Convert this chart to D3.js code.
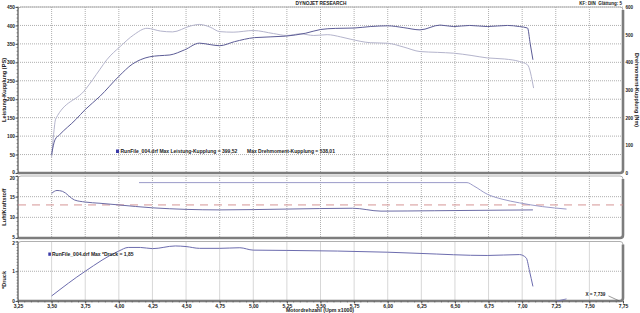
<!DOCTYPE html>
<html><head><meta charset="utf-8">
<script src="https://cdn.jsdelivr.net/npm/d3@7"></script>
<style>
html,body{margin:0;padding:0;background:#fff;}
svg{display:block;}
text{font-family:"Liberation Sans",Arial,sans-serif;font-weight:bold;fill:#222;}
</style></head>
<body>
<svg id="c" width="640" height="313"></svg>
<script>
// ---------- data ----------
const rpmTicks = [3.25,3.5,3.75,4.0,4.25,4.5,4.75,5.0,5.25,5.5,5.75,6.0,6.25,6.5,6.75,7.0,7.25,7.5,7.75];
const powerTicks = [0,50,100,150,200,250,300,350,400,450];
const torqueTicks = [0,100,200,300,400,500,600];
const afrTicks = [5,10,15,20];
const boostTicks = [0,1,2];

// Leistung-Kupplung (PS) [rpm x1000, PS]
const power = [[3.50,50],[3.525,90],[3.56,104],[3.68,145],[3.75,172],[3.86,208],[4.00,262],[4.10,295],[4.16,307],[4.23,315],[4.30,318],[4.38,320],[4.49,334],[4.60,352],[4.68,348],[4.75,345],[4.86,356],[5.01,367],[5.24,371],[5.39,379],[5.50,389],[5.61,392],[5.75,393],[5.87,397],[6.00,399],[6.12,394],[6.24,388],[6.39,401],[6.49,397],[6.61,400],[6.74,397],[6.89,400],[6.98,397],[7.04,393],[7.06,350],[7.08,307]];
// Drehmoment-Kupplung (Nm)
const torque = [[3.50,58],[3.515,140],[3.53,195],[3.75,301],[3.86,375],[3.91,409],[4.01,457],[4.11,499],[4.21,523],[4.31,513],[4.40,510],[4.53,531],[4.60,537],[4.68,527],[4.75,511],[4.85,509],[5.00,515],[5.15,504],[5.25,497],[5.35,503],[5.45,497],[5.55,500],[5.65,492],[5.72,484],[5.87,471],[6.00,469],[6.12,455],[6.24,439],[6.37,436],[6.49,433],[6.62,425],[6.74,416],[6.87,412],[6.98,403],[7.04,391],[7.085,307]];
// Luft/Kraftstoff
const afr = [[3.50,15.8],[3.54,16.5],[3.58,16.3],[3.67,14.2],[3.75,13.7],[3.86,13.4],[4.00,13.0],[4.25,12.3],[4.75,11.8],[5.25,12.0],[5.74,12.2],[5.95,11.5],[6.35,11.6],[7.08,11.8]];
const afr2 = [[4.15,18.4],[6.59,18.4],[6.64,17.6],[6.74,15.6],[6.85,14.4],[6.98,13.5],[7.15,12.6],[7.33,12.0]];
const afrRef = 13.0;
// *Druck
const boost = [[3.50,0.17],[3.75,1.0],[4.00,1.68],[4.07,1.80],[4.16,1.80],[4.25,1.76],[4.42,1.85],[4.50,1.83],[4.60,1.77],[4.75,1.77],[4.90,1.79],[5.00,1.71],[5.25,1.70],[6.00,1.64],[6.24,1.60],[6.74,1.53],[6.98,1.56],[7.03,1.45],[7.055,1.0],[7.08,0.49]];
const boostTail = [[7.26,0],[7.33,0.07]];
const cursorX = 7.739;

// ---------- layout ----------
const svg = d3.select("#c");
const L = 18, R = 623;
const x = d3.scaleLinear().domain([3.25,7.75]).range([L,R]);
const top1 = 7, bot1 = 173, top2 = 176, bot2 = 238, top3 = 241.5, bot3 = 301;
const yP = d3.scaleLinear().domain([0,450]).range([bot1,top1]);
const yT = d3.scaleLinear().domain([0,600]).range([bot1,top1]);
const yA = d3.scaleLinear().domain([5,20]).range([bot2,top2]);
const yB = d3.scaleLinear().domain([0,2]).range([bot3,top3]);

const grid = svg.append("g");
function vgrid(t,b){
  grid.selectAll(null).data(rpmTicks.slice(1,-1)).enter().append("line")
    .attr("x1",d=>x(d)).attr("x2",d=>x(d)).attr("y1",t).attr("y2",b)
    .attr("stroke","#9a9a9a").attr("stroke-width",0.8).attr("stroke-dasharray","1,1");
}
function hgrid(sc,vals){
  grid.selectAll(null).data(vals).enter().append("line")
    .attr("x1",L).attr("x2",R).attr("y1",d=>sc(d)).attr("y2",d=>sc(d))
    .attr("stroke","#9a9a9a").attr("stroke-width",0.8).attr("stroke-dasharray","1,1");
}
vgrid(top1,bot1); vgrid(top2,bot2); vgrid(top3,bot3);
hgrid(yP,powerTicks.slice(1,-1).concat([450]));
hgrid(yA,[10,15]);
hgrid(yB,[1]);

// panel frames
function frame(t,b){
  const g = svg.append("g");
  g.append("rect").attr("x",L).attr("y",t).attr("width",R-L).attr("height",b-t).attr("rx",3)
    .attr("fill","none").attr("stroke","#b0b0b0").attr("stroke-width",1);
  g.append("path").attr("d",`M${R},${t+3}L${R},${b-3}Q${R},${b} ${R-3},${b}L${L},${b}`)
    .attr("fill","none").attr("stroke","#7d7d7d").attr("stroke-width",2.6);
  g.append("line").attr("x1",L).attr("x2",L).attr("y1",t).attr("y2",b).attr("stroke","#555").attr("stroke-width",1);
}
frame(top1,bot1); frame(top2,bot2); frame(top3,bot3);

// ---------- axes ----------
function leftAxis(sc,major,minorStep,fmt,shift){
  const g = svg.append("g").attr("transform",`translate(${L},0)`);
  const ax = d3.axisLeft(sc).tickValues(major).tickSize(2.5).tickFormat(fmt);
  g.call(ax);
  const [d0,d1] = sc.domain();
  const minors = d3.range(d0,d1+1e-9,minorStep);
  g.selectAll(".mn").data(minors).enter().append("line").attr("class","mn")
    .attr("x1",-1.5).attr("x2",0).attr("y1",d=>sc(d)).attr("y2",d=>sc(d)).attr("stroke","#555").attr("stroke-width",0.6);
  g.select(".domain").remove();
  g.selectAll(".tick line").attr("stroke","#555");
  g.selectAll(".tick text").attr("x",-3).style("font-size","4.8px").style("font-family","Liberation Sans").style("font-weight","bold").attr("fill","#222")
    .attr("dy",d=>(shift[d]!==undefined? shift[d] : 0) + 1.6 + "px");
  return g;
}
leftAxis(yP,powerTicks,10,d3.format("d"),{0:-1.5});
leftAxis(yA,afrTicks,1,d3.format("d"),{20:1.6,5:-1.2});
leftAxis(yB,boostTicks,0.1,d3.format("d"),{2:1.6});

// right torque axis
const gr = svg.append("g").attr("transform",`translate(${R+1},0)`);
gr.call(d3.axisRight(yT).tickValues(torqueTicks).tickSize(0).tickFormat(d3.format("d")));
gr.select(".domain").remove();
gr.selectAll(".tick text").attr("x",1.5).style("font-size","4.6px").style("font-family","Liberation Sans").style("font-weight","bold").attr("fill","#222");

// bottom x axis
const gx = svg.append("g").attr("transform",`translate(0,${bot3})`);
gx.call(d3.axisBottom(x).tickValues(rpmTicks).tickSize(2.5).tickFormat(d=>d3.format(".2f")(d).replace(".",",")));
gx.select(".domain").remove();
gx.selectAll(".tick line").attr("stroke","#555");
gx.selectAll(".tick text").attr("y",3).style("font-size","5px").style("font-family","Liberation Sans").style("font-weight","bold").attr("fill","#222");
gx.selectAll(".mn").data(d3.range(3.25,7.75+1e-9,0.05)).enter().append("line").attr("class","mn")
  .attr("x1",d=>x(d)).attr("x2",d=>x(d)).attr("y1",0).attr("y2",1.5).attr("stroke","#555").attr("stroke-width",0.6);

// ---------- series ----------
const mk = sc => d3.line().x(d=>x(d[0])).y(d=>sc(d[1])).curve(d3.curveMonotoneX);
svg.append("path").datum(torque).attr("d",mk(yT)).attr("fill","none").attr("stroke","#b4b4cc").attr("stroke-width",1);
svg.append("path").datum(power).attr("d",mk(yP)).attr("fill","none").attr("stroke","#5c5c96").attr("stroke-width",1);

svg.append("line").attr("x1",L).attr("x2",R).attr("y1",yA(afrRef)).attr("y2",yA(afrRef))
  .attr("stroke","#d08a8a").attr("stroke-width",0.9).attr("stroke-dasharray","8,6");
svg.append("path").datum(afr2).attr("d",mk(yA)).attr("fill","none").attr("stroke","#9a9ac8").attr("stroke-width",1);
svg.append("path").datum(afr).attr("d",mk(yA)).attr("fill","none").attr("stroke","#6c6ca6").attr("stroke-width",1);

svg.append("path").datum(boost).attr("d",mk(yB)).attr("fill","none").attr("stroke","#6c6cae").attr("stroke-width",1);
svg.append("path").datum(boostTail).attr("d",mk(yB)).attr("fill","none").attr("stroke","#6c6cae").attr("stroke-width",0.8);

// cursor annotation
svg.append("text").attr("x",x(cursorX)-36).attr("y",yB(0.16)).style("font-size","4.6px").text("X = " + String(cursorX).replace(".",","));
svg.append("line").attr("x1",x(cursorX)-13).attr("y1",yB(0.17)).attr("x2",x(cursorX)-2).attr("y2",yB(0))
  .attr("stroke","#555").attr("stroke-width",0.6);

// ---------- legends ----------
svg.append("rect").attr("x",116).attr("y",149.5).attr("width",3).attr("height",3.5).attr("fill","#3a3aa8");
svg.append("text").attr("x",120.5).attr("y",153).style("font-size","5px").text("RunFile_004.drf Max Leistung-Kupplung = 399,52");
svg.append("text").attr("x",247).attr("y",153).style("font-size","5px").text("Max Drehmoment-Kupplung = 538,01");
svg.append("rect").attr("x",48.3).attr("y",252.5).attr("width",2.6).attr("height",3.3).attr("fill","#3a3aa8");
svg.append("text").attr("x",52).attr("y",256).style("font-size","5px").text("RunFile_004.drf Max *Druck = 1,85");

// ---------- titles ----------
svg.append("text").attr("x",321).attr("y",5).attr("text-anchor","middle").style("font-size","4.8px").text("DYNOJET RESEARCH");
svg.append("text").attr("x",622).attr("y",4.5).attr("text-anchor","end").style("font-size","4.5px").style("white-space","pre").text("KF: DIN  Glättung: 5");
svg.append("text").attr("transform","translate(6,90) rotate(-90)").attr("text-anchor","middle").style("font-size","5.6px").text("Leistung-Kupplung (PS)");
svg.append("text").attr("transform","translate(635,90) rotate(90)").attr("text-anchor","middle").style("font-size","5.4px").text("Drehmoment-Kupplung (Nm)");
svg.append("text").attr("transform","translate(6,207) rotate(-90)").attr("text-anchor","middle").style("font-size","5.6px").text("Luft/Kraftstoff");
svg.append("text").attr("transform","translate(6,280) rotate(-90)").attr("text-anchor","middle").style("font-size","5.6px").text("*Druck");
svg.append("text").attr("x",320).attr("y",312).attr("text-anchor","middle").style("font-size","5.2px").text("Motordrehzahl (Upm x1000)");
</script>
</body></html>
